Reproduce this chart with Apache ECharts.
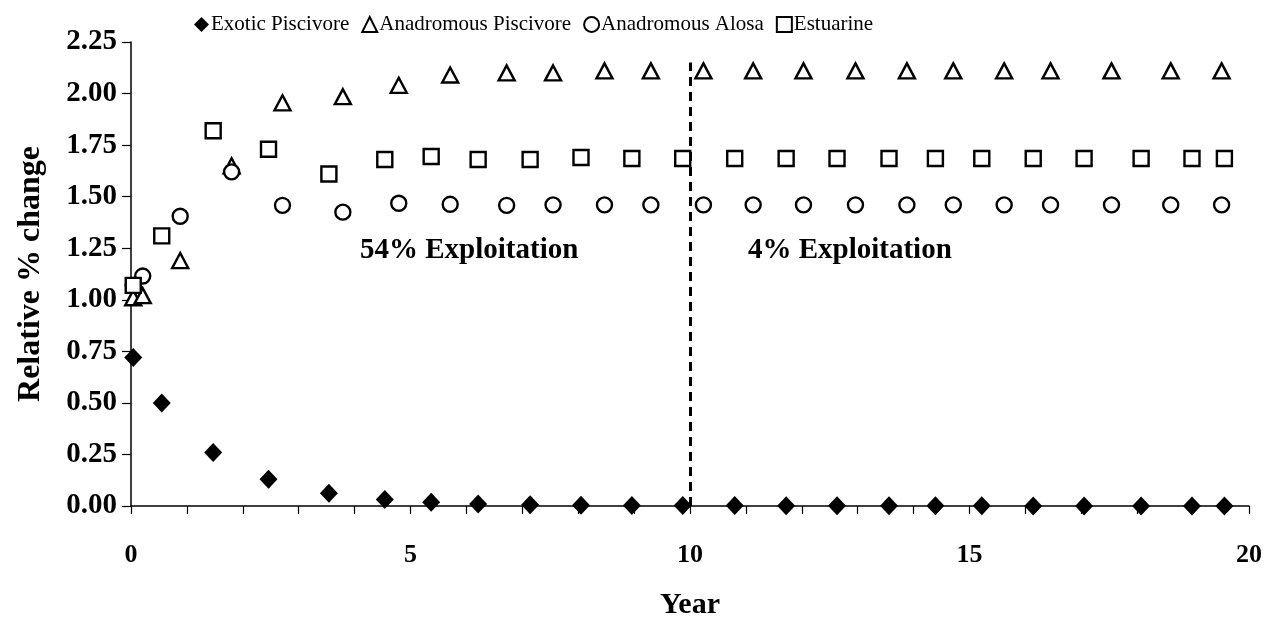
<!DOCTYPE html>
<html>
<head>
<meta charset="utf-8">
<script src="https://cdn.jsdelivr.net/npm/echarts@6/dist/echarts.min.js"></script>
<style>
  html, body { margin: 0; padding: 0; background: #fff; }
  #chart { width: 1264px; height: 621px; }
</style>
</head>
<body>
<div id="chart"></div>
<script>
// Sampling years: exotic piscivores and estuarine species share one set,
// the anadromous groups share the other.
var yearsA = [0.04, 0.55, 1.47, 2.46, 3.54, 4.54, 5.37, 6.21, 7.14, 8.05, 8.96, 9.87,
              10.80, 11.72, 12.63, 13.56, 14.39, 15.22, 16.14, 17.05, 18.07, 18.98, 19.56];
var yearsB = [0.04, 0.21, 0.88, 1.80, 2.71, 3.79, 4.79, 5.71, 6.72, 7.55, 8.47, 9.30,
              10.24, 11.13, 12.03, 12.96, 13.88, 14.71, 15.62, 16.45, 17.54, 18.60, 19.51];

var exoticPiscivore = [0.72, 0.50, 0.26, 0.13, 0.062, 0.032, 0.018, 0.010, 0.006, 0.004, 0.003, 0.002,
                       0.002, 0.001, 0.001, 0.001, 0.001, 0.001, 0.0, 0.0, 0.0, 0.0, 0.0];
var estuarine = [1.07, 1.31, 1.82, 1.73, 1.61, 1.68, 1.695, 1.68, 1.68, 1.69, 1.685, 1.685,
                 1.685, 1.685, 1.685, 1.685, 1.685, 1.685, 1.685, 1.685, 1.685, 1.685, 1.685];
var anadromousPiscivore = [1.01, 1.02, 1.19, 1.65, 1.955, 1.985, 2.04, 2.09, 2.10, 2.10, 2.11, 2.11,
                           2.11, 2.11, 2.11, 2.11, 2.11, 2.11, 2.11, 2.11, 2.11, 2.11, 2.11];
var anadromousAlosa = [1.07, 1.115, 1.405, 1.62, 1.458, 1.425, 1.468, 1.463, 1.458, 1.46, 1.46, 1.46,
                       1.46, 1.46, 1.46, 1.46, 1.46, 1.46, 1.46, 1.46, 1.46, 1.46, 1.46];

var seriesNames = ['Exotic Piscivore', 'Anadromous Piscivore', 'Anadromous Alosa', 'Estuarine'];
var yTickLabels = ['0.00', '0.25', '0.50', '0.75', '1.00', '1.25', '1.50', '1.75', '2.00', '2.25'];
var xTickLabels = ['0', '5', '10', '15', '20'];
var regimeLabels = ['54% Exploitation', '4% Exploitation'];
var regimeSwitchYear = 10;
var regimeLineTop = 2.15;

function pairs(xs, ys) {
  return xs.map(function (x, i) { return [x, ys[i]]; });
}

var serif = '"Liberation Serif", "Times New Roman", serif';
var hollow = { color: '#ffffff', borderColor: '#000000', borderWidth: 2.4, opacity: 1 };

var chart = echarts.init(document.getElementById('chart'), null, { renderer: 'canvas' });

chart.setOption({
  animation: false,
  backgroundColor: '#ffffff',
  textStyle: { fontFamily: serif, color: '#000' },
  legend: {
    data: seriesNames,
    left: 189,
    top: 9,
    itemWidth: 15,
    itemHeight: 15,
    itemGap: 12,
    textStyle: { fontFamily: serif, fontSize: 21, color: '#000', padding: [0, 0, 0, -3] }
  },
  grid: {
    left: 131, right: 15, top: 42, bottom: 115,
    containLabel: false,
    outerBoundsMode: 'none'
  },
  xAxis: {
    type: 'value',
    min: 0,
    max: 20,
    interval: 1,
    name: 'Year',
    nameLocation: 'middle',
    nameGap: 84,
    nameTextStyle: { fontFamily: serif, fontSize: 30, fontWeight: 'bold', color: '#000' },
    axisLine: { show: true, onZero: false, lineStyle: { color: '#000', width: 1.5 } },
    axisTick: { show: true, inside: false, length: 8, lineStyle: { color: '#000', width: 1.2 } },
    axisLabel: {
      margin: 36,
      fontFamily: serif, fontSize: 26, fontWeight: 'bold', color: '#000',
      formatter: function (v) {
        var s = String(v);
        return xTickLabels.indexOf(s) >= 0 ? s : '';
      }
    },
    splitLine: { show: false }
  },
  yAxis: {
    type: 'value',
    min: 0,
    max: 2.25,
    interval: 0.25,
    name: 'Relative % change',
    nameLocation: 'middle',
    nameGap: 84,
    nameRotate: 90,
    nameTextStyle: { fontFamily: serif, fontSize: 32, fontWeight: 'bold', color: '#000' },
    axisLine: { show: true, lineStyle: { color: '#000', width: 1.5 } },
    axisTick: { show: true, inside: false, length: 9, lineStyle: { color: '#000', width: 1.2 } },
    axisLabel: {
      margin: 14,
      fontFamily: serif, fontSize: 29, fontWeight: 'bold', color: '#000',
      formatter: function (v) {
        return yTickLabels[Math.round(v / 0.25)];
      }
    },
    splitLine: { show: false }
  },
  series: [
    {
      name: seriesNames[0],
      type: 'scatter',
      symbol: 'diamond',
      symbolSize: [18, 19],
      itemStyle: { color: '#000000', opacity: 1 },
      data: pairs(yearsA, exoticPiscivore),
      z: 3,
      markLine: {
        silent: true,
        symbol: ['none', 'none'],
        label: { show: false },
        lineStyle: { color: '#000', width: 3, type: [9, 6], opacity: 1 },
        data: [[
          { coord: [regimeSwitchYear, 0] },
          { coord: [regimeSwitchYear, regimeLineTop] }
        ]]
      }
    },
    {
      name: seriesNames[1],
      type: 'scatter',
      symbol: 'triangle',
      symbolSize: [16, 15],
      itemStyle: hollow,
      data: pairs(yearsB, anadromousPiscivore),
      z: 4
    },
    {
      name: seriesNames[2],
      type: 'scatter',
      symbol: 'circle',
      symbolSize: 15,
      itemStyle: hollow,
      data: pairs(yearsB, anadromousAlosa),
      z: 5
    },
    {
      name: seriesNames[3],
      type: 'scatter',
      symbol: 'rect',
      symbolSize: 15,
      itemStyle: hollow,
      data: pairs(yearsA, estuarine),
      z: 6
    }
  ]
});

// Regime annotations placed through the chart's own coordinate system
function placeRegimeLabels() {
  var p1 = chart.convertToPixel({ gridIndex: 0 }, [6.05, 1.24]);
  var p2 = chart.convertToPixel({ gridIndex: 0 }, [12.86, 1.24]);
  var style = { fontFamily: serif, fontSize: 29, fontWeight: 'bold', fill: '#000',
                align: 'center', verticalAlign: 'middle' };
  chart.setOption({
    graphic: [
      { type: 'text', x: p1[0], y: p1[1], style: Object.assign({ text: regimeLabels[0] }, style) },
      { type: 'text', x: p2[0], y: p2[1], style: Object.assign({ text: regimeLabels[1] }, style) }
    ]
  });
}
placeRegimeLabels();
</script>
</body>
</html>
